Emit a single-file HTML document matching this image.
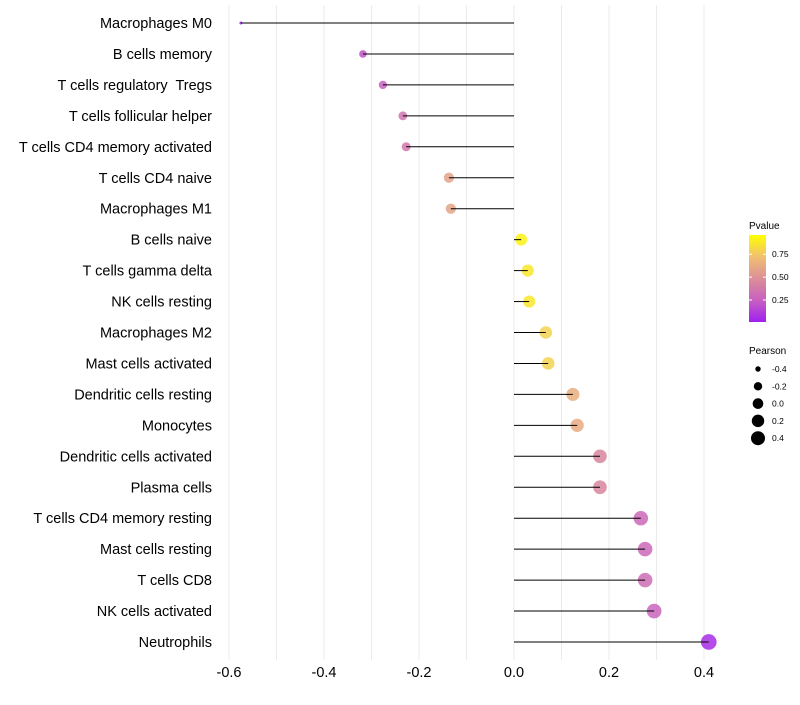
<!DOCTYPE html>
<html><head><meta charset="utf-8"><style>
body{margin:0;background:#fff;font-family:"Liberation Sans",sans-serif}
</style></head><body>
<svg id="chart" width="800" height="700" xmlns="http://www.w3.org/2000/svg"></svg>
<script>
const categories=["Macrophages M0","B cells memory","T cells regulatory  Tregs","T cells follicular helper","T cells CD4 memory activated","T cells CD4 naive","Macrophages M1","B cells naive","T cells gamma delta","NK cells resting","Macrophages M2","Mast cells activated","Dendritic cells resting","Monocytes","Dendritic cells activated","Plasma cells","T cells CD4 memory resting","Mast cells resting","T cells CD8","NK cells activated","Neutrophils"];
const pearson=[-0.575,-0.318,-0.276,-0.234,-0.227,-0.137,-0.133,0.015,0.029,0.032,0.067,0.072,0.124,0.133,0.181,0.181,0.267,0.276,0.276,0.295,0.41];
const pvalue=[0.02,0.2,0.25,0.35,0.38,0.6,0.6,0.95,0.9,0.9,0.82,0.82,0.66,0.65,0.45,0.45,0.3,0.3,0.32,0.27,0.05];
const xTicks=[-0.6,-0.4,-0.2,0,0.2,0.4];
const pTicks=[0.25,0.5,0.75];
const sizeTicks=[-0.4,-0.2,0,0.2,0.4];

const svg=document.getElementById('chart');
const NS='http://www.w3.org/2000/svg';
function mk(t,a,p){const e=document.createElementNS(NS,t);for(const k in a)e.setAttribute(k,a[k]);(p||svg).appendChild(e);return e;}
const x=v=>514+v*475;
const y=i=>23+i*30.95;
const r=v=>Math.sqrt(Math.max(2.2,35+65*v));
const stops=[[0,[160,32,240]],[0.25,[200,96,192]],[0.5,[220,143,152]],[0.75,[240,192,112]],[1,[255,255,0]]];
function col(p){p=Math.max(0,Math.min(1,p));for(let i=1;i<stops.length;i++){if(p<=stops[i][0]){const a=stops[i-1],b=stops[i],t=(p-a[0])/(b[0]-a[0]);const c=a[1].map((v,j)=>Math.round(v+(b[1][j]-v)*t));return `rgb(${c})`;}}}

for(let v=-0.6;v<=0.41;v+=0.1){const g=mk('line',{x1:x(v),x2:x(v),y1:5,y2:660,stroke:'#ebebeb','stroke-width':1});

}
xTicks.forEach(v=>{const t=mk('text',{x:x(v),y:677,'text-anchor':'middle','font-size':14.5,fill:'#000'});t.textContent=v.toFixed(1);

});
categories.forEach((c,i)=>{
 const t=mk('text',{x:212,y:y(i)+5,'text-anchor':'end','font-size':14.5,fill:'#000',style:'white-space:pre'});t.textContent=c;
 
 
 const d=mk('circle',{cx:x(pearson[i]),cy:y(i),r:r(pearson[i]),fill:col(pvalue[i]),'fill-opacity':0.85});
 
 
 const l=mk('line',{x1:x(0),x2:x(pearson[i]),y1:y(i),y2:y(i),stroke:'#000','stroke-width':1});
 
 
});
const defs=mk('defs',{});const lg=mk('linearGradient',{id:'pg',x1:0,y1:1,x2:0,y2:0},defs);
stops.forEach(s=>mk('stop',{offset:s[0],'stop-color':`rgb(${s[1]})`},lg));
let t=mk('text',{x:749,y:229,'font-size':10});t.textContent='Pvalue';

const py=p=>322-(p-0.01)*(87/0.95);
const bar=mk('rect',{x:749,y:py(0.96),width:17,height:87,fill:'url(#pg)'});

pTicks.forEach(p=>{mk('line',{x1:749,x2:752,y1:py(p),y2:py(p),stroke:'#fff'});mk('line',{x1:763,x2:766,y1:py(p),y2:py(p),stroke:'#fff'});
 const tt=mk('text',{x:772,y:py(p)+3,'font-size':8.5});tt.textContent=p.toFixed(2);
 });
t=mk('text',{x:749,y:354,'font-size':10});t.textContent='Pearson';

sizeTicks.forEach((v,i)=>{const cy=369+i*17.3;
 const c=mk('circle',{cx:758,cy:cy,r:Math.min(7,r(v)*0.9),fill:'#000'});
 
 const tt=mk('text',{x:772,y:cy+3,'font-size':8.5});tt.textContent=v.toFixed(1);
 });
</script>
</body></html>
